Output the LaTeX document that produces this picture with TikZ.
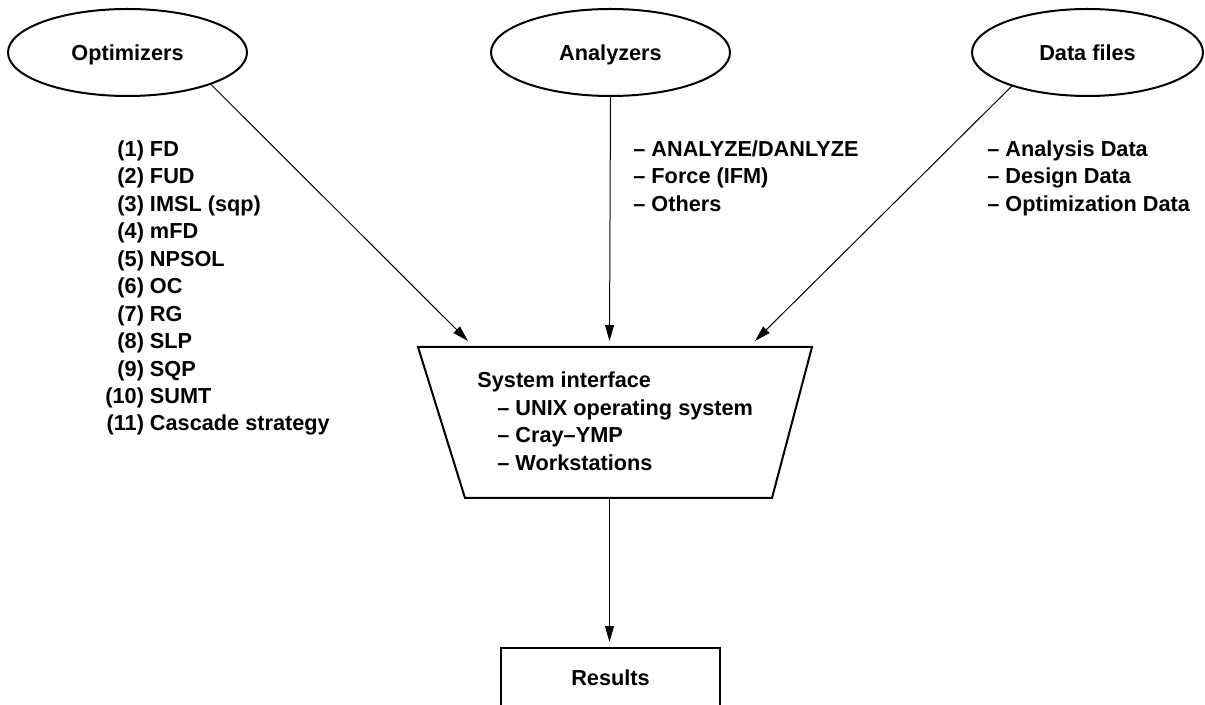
\documentclass[tikz,border=0pt]{standalone}
\usepackage{fontspec}
\setmainfont{Liberation Sans}
\usetikzlibrary{shapes.geometric,arrows.meta}
\begin{document}
\begin{tikzpicture}[x=0.5pt,y=-0.5pt,
  font=\fontsize{10.85}{13.72}\selectfont\bfseries,
  oval/.style={ellipse, draw, line width=1pt, minimum width=119.5pt, minimum height=43.5pt, inner sep=0pt, text depth=0pt, text height=7.9pt},
  conn/.style={line width=0.5pt, -{Triangle[length=8pt,width=4.5pt]}},
  lst/.style={anchor=base west, inner sep=0pt},
  boxline/.style={line width=1pt}]
\useasboundingbox (0,0) rectangle (1205,705);
\clip (0,0) rectangle (1205,705);
% top ovals
\node[oval] (opt) at (127.5,52.5) {Optimizers};
\node[oval] (ana) at (610.5,52.5) {Analyzers};
\node[oval, minimum width=115.5pt] (dat) at (1087.5,52.5) {Data files};
% lists
\node[lst] (optlist) at (105,156.5) {\begin{tabular}[t]{@{}r@{ }l@{}}
(1)&FD\\(2)&FUD\\(3)&IMSL (sqp)\\(4)&mFD\\(5)&NPSOL\\(6)&OC\\(7)&RG\\(8)&SLP\\(9)&SQP\\(10)&SUMT\\(11)&Cascade strategy\end{tabular}};
\node[lst] (analist) at (633,156.5) {\begin{tabular}[t]{@{}l@{}}
-- ANALYZE/DANLYZE\\-- Force (IFM)\\-- Others\end{tabular}};
\node[lst] (datlist) at (987,156.5) {\begin{tabular}[t]{@{}l@{}}
-- Analysis Data\\-- Design Data\\-- Optimization Data\end{tabular}};
% system interface trapezoid
\coordinate (stl) at (418,347);
\coordinate (str) at (812,347);
\coordinate (sbr) at (772,498);
\coordinate (sbl) at (465,498);
\draw[boxline] (stl) -- (str) -- (sbr) -- (sbl) -- cycle;
\node[lst] (sys) at (477,388) {\begin{tabular}[t]{@{}l@{}}
System interface\\
\hspace*{10pt}-- UNIX operating system\\
\hspace*{10pt}-- Cray--YMP\\
\hspace*{10pt}-- Workstations\end{tabular}};
% arrow tips
\coordinate (in1) at (468,341);
\coordinate (in2) at (609.5,341);
\coordinate (in3) at (755,341);
\coordinate (sysout) at (609.5,498);
\draw[conn] (opt.-21.5) -- (in1);
\draw[conn] (ana.south) -- (in2);
\draw[conn] (dat.-156.8) -- (in3);
% results
\node[draw, boxline, minimum width=109.5pt, minimum height=30pt, inner sep=0pt] (res) at (610.5,678) {Results};
\coordinate (resin) at (609.5,642);
\draw[conn] (sysout) -- (resin);
\end{tikzpicture}
\end{document}
